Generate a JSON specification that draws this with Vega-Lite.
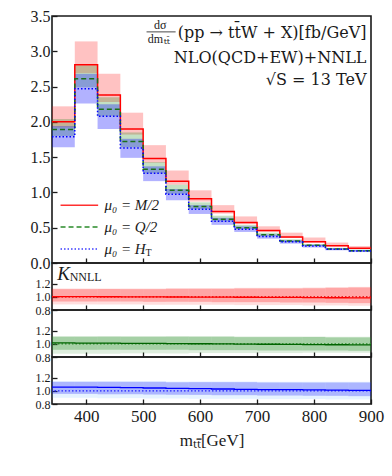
{
"$schema":"https://vega.github.io/schema/vega-lite/v6.json",
"padding":{"left":29,"top":7,"right":5,"bottom":5},
"background":"white",
"config":{
 "font":"Liberation Serif",
 "view":{"stroke":"#1a1a1a","strokeWidth":1.6},
 "axis":{"domain":false,"grid":false,"tickSize":-5,"tickWidth":1.3,"tickColor":"#1a1a1a","labelColor":"#1a1a1a","labelFont":"Liberation Serif","labelPadding":6,"labelFlush":false,"labelOverlap":false,"tickCount":30,"titleFont":"Liberation Serif","titleFontWeight":"normal","titleColor":"#1a1a1a"},
 "text":{"font":"Liberation Serif","color":"#1a1a1a"}
},
"datasets":{
"main":[
{"s":"M/2","a":340,"b":380,"c":2.00,"lo":1.92,"hi":2.22},
{"s":"M/2","a":380,"b":420,"c":2.81,"lo":2.69,"hi":3.14},
{"s":"M/2","a":420,"b":460,"c":2.38,"lo":2.28,"hi":2.68},
{"s":"M/2","a":460,"b":500,"c":1.90,"lo":1.82,"hi":2.13},
{"s":"M/2","a":500,"b":540,"c":1.48,"lo":1.42,"hi":1.67},
{"s":"M/2","a":540,"b":580,"c":1.16,"lo":1.11,"hi":1.31},
{"s":"M/2","a":580,"b":620,"c":0.91,"lo":0.87,"hi":1.03},
{"s":"M/2","a":620,"b":660,"c":0.73,"lo":0.70,"hi":0.82},
{"s":"M/2","a":660,"b":700,"c":0.575,"lo":0.55,"hi":0.66},
{"s":"M/2","a":700,"b":740,"c":0.46,"lo":0.44,"hi":0.52},
{"s":"M/2","a":740,"b":780,"c":0.37,"lo":0.355,"hi":0.43},
{"s":"M/2","a":780,"b":820,"c":0.30,"lo":0.29,"hi":0.36},
{"s":"M/2","a":820,"b":860,"c":0.245,"lo":0.235,"hi":0.29},
{"s":"M/2","a":860,"b":900,"c":0.21,"lo":0.20,"hi":0.24},
{"s":"Q/2","a":340,"b":380,"c":1.89,"lo":1.80,"hi":2.04},
{"s":"Q/2","a":380,"b":420,"c":2.61,"lo":2.49,"hi":2.80},
{"s":"Q/2","a":420,"b":460,"c":2.18,"lo":2.08,"hi":2.35},
{"s":"Q/2","a":460,"b":500,"c":1.72,"lo":1.64,"hi":1.85},
{"s":"Q/2","a":500,"b":540,"c":1.33,"lo":1.27,"hi":1.43},
{"s":"Q/2","a":540,"b":580,"c":1.03,"lo":0.98,"hi":1.11},
{"s":"Q/2","a":580,"b":620,"c":0.80,"lo":0.765,"hi":0.86},
{"s":"Q/2","a":620,"b":660,"c":0.62,"lo":0.59,"hi":0.67},
{"s":"Q/2","a":660,"b":700,"c":0.50,"lo":0.48,"hi":0.54},
{"s":"Q/2","a":700,"b":740,"c":0.40,"lo":0.38,"hi":0.43},
{"s":"Q/2","a":740,"b":780,"c":0.31,"lo":0.295,"hi":0.335},
{"s":"Q/2","a":780,"b":820,"c":0.25,"lo":0.24,"hi":0.27},
{"s":"Q/2","a":820,"b":860,"c":0.20,"lo":0.19,"hi":0.215},
{"s":"Q/2","a":860,"b":900,"c":0.175,"lo":0.167,"hi":0.19},
{"s":"HT","a":340,"b":380,"c":1.79,"lo":1.64,"hi":1.94},
{"s":"HT","a":380,"b":420,"c":2.47,"lo":2.26,"hi":2.68},
{"s":"HT","a":420,"b":460,"c":2.08,"lo":1.90,"hi":2.25},
{"s":"HT","a":460,"b":500,"c":1.63,"lo":1.49,"hi":1.76},
{"s":"HT","a":500,"b":540,"c":1.27,"lo":1.16,"hi":1.37},
{"s":"HT","a":540,"b":580,"c":0.975,"lo":0.89,"hi":1.05},
{"s":"HT","a":580,"b":620,"c":0.76,"lo":0.695,"hi":0.82},
{"s":"HT","a":620,"b":660,"c":0.59,"lo":0.54,"hi":0.64},
{"s":"HT","a":660,"b":700,"c":0.48,"lo":0.44,"hi":0.52},
{"s":"HT","a":700,"b":740,"c":0.375,"lo":0.345,"hi":0.405},
{"s":"HT","a":740,"b":780,"c":0.30,"lo":0.275,"hi":0.325},
{"s":"HT","a":780,"b":820,"c":0.24,"lo":0.22,"hi":0.26},
{"s":"HT","a":820,"b":860,"c":0.195,"lo":0.18,"hi":0.21},
{"s":"HT","a":860,"b":900,"c":0.17,"lo":0.155,"hi":0.185}
],
"ratio":[
{"s":"M/2","a":340,"b":380,"r":1.005,"ilo":0.93,"ihi":1.12,"olo":0.885,"ohi":1.13},
{"s":"M/2","a":380,"b":420,"r":1.004,"ilo":0.93,"ihi":1.12,"olo":0.885,"ohi":1.13},
{"s":"M/2","a":420,"b":460,"r":1.003,"ilo":0.93,"ihi":1.12,"olo":0.885,"ohi":1.13},
{"s":"M/2","a":460,"b":500,"r":1.002,"ilo":0.93,"ihi":1.12,"olo":0.885,"ohi":1.13},
{"s":"M/2","a":500,"b":540,"r":1.0,"ilo":0.925,"ihi":1.12,"olo":0.88,"ohi":1.13},
{"s":"M/2","a":540,"b":580,"r":0.999,"ilo":0.925,"ihi":1.125,"olo":0.88,"ohi":1.135},
{"s":"M/2","a":580,"b":620,"r":0.998,"ilo":0.925,"ihi":1.125,"olo":0.88,"ohi":1.135},
{"s":"M/2","a":620,"b":660,"r":0.996,"ilo":0.92,"ihi":1.125,"olo":0.88,"ohi":1.135},
{"s":"M/2","a":660,"b":700,"r":0.995,"ilo":0.92,"ihi":1.13,"olo":0.875,"ohi":1.14},
{"s":"M/2","a":700,"b":740,"r":0.993,"ilo":0.92,"ihi":1.13,"olo":0.875,"ohi":1.14},
{"s":"M/2","a":740,"b":780,"r":0.992,"ilo":0.915,"ihi":1.13,"olo":0.875,"ohi":1.14},
{"s":"M/2","a":780,"b":820,"r":0.99,"ilo":0.915,"ihi":1.135,"olo":0.87,"ohi":1.145},
{"s":"M/2","a":820,"b":860,"r":0.988,"ilo":0.91,"ihi":1.14,"olo":0.87,"ohi":1.15},
{"s":"M/2","a":860,"b":900,"r":0.986,"ilo":0.905,"ihi":1.145,"olo":0.865,"ohi":1.155},
{"s":"Q/2","a":340,"b":380,"r":1.015,"ilo":0.91,"ihi":1.11,"olo":0.85,"ohi":1.12},
{"s":"Q/2","a":380,"b":420,"r":1.014,"ilo":0.91,"ihi":1.11,"olo":0.85,"ohi":1.12},
{"s":"Q/2","a":420,"b":460,"r":1.012,"ilo":0.91,"ihi":1.11,"olo":0.85,"ohi":1.12},
{"s":"Q/2","a":460,"b":500,"r":1.01,"ilo":0.91,"ihi":1.11,"olo":0.855,"ohi":1.12},
{"s":"Q/2","a":500,"b":540,"r":1.008,"ilo":0.91,"ihi":1.11,"olo":0.855,"ohi":1.12},
{"s":"Q/2","a":540,"b":580,"r":1.005,"ilo":0.91,"ihi":1.11,"olo":0.855,"ohi":1.12},
{"s":"Q/2","a":580,"b":620,"r":1.003,"ilo":0.905,"ihi":1.11,"olo":0.86,"ohi":1.12},
{"s":"Q/2","a":620,"b":660,"r":1.0,"ilo":0.905,"ihi":1.11,"olo":0.86,"ohi":1.12},
{"s":"Q/2","a":660,"b":700,"r":0.998,"ilo":0.905,"ihi":1.105,"olo":0.86,"ohi":1.115},
{"s":"Q/2","a":700,"b":740,"r":0.995,"ilo":0.9,"ihi":1.105,"olo":0.86,"ohi":1.115},
{"s":"Q/2","a":740,"b":780,"r":0.993,"ilo":0.9,"ihi":1.105,"olo":0.86,"ohi":1.115},
{"s":"Q/2","a":780,"b":820,"r":0.99,"ilo":0.9,"ihi":1.105,"olo":0.865,"ohi":1.115},
{"s":"Q/2","a":820,"b":860,"r":0.988,"ilo":0.9,"ihi":1.1,"olo":0.865,"ohi":1.11},
{"s":"Q/2","a":860,"b":900,"r":0.985,"ilo":0.895,"ihi":1.1,"olo":0.865,"ohi":1.11},
{"s":"HT","a":340,"b":380,"r":1.06,"ilo":0.955,"ihi":1.14,"olo":0.895,"ohi":1.15},
{"s":"HT","a":380,"b":420,"r":1.058,"ilo":0.955,"ihi":1.14,"olo":0.895,"ohi":1.15},
{"s":"HT","a":420,"b":460,"r":1.055,"ilo":0.95,"ihi":1.14,"olo":0.89,"ohi":1.15},
{"s":"HT","a":460,"b":500,"r":1.05,"ilo":0.95,"ihi":1.14,"olo":0.89,"ohi":1.15},
{"s":"HT","a":500,"b":540,"r":1.045,"ilo":0.945,"ihi":1.14,"olo":0.885,"ohi":1.15},
{"s":"HT","a":540,"b":580,"r":1.04,"ilo":0.94,"ihi":1.135,"olo":0.885,"ohi":1.145},
{"s":"HT","a":580,"b":620,"r":1.035,"ilo":0.94,"ihi":1.135,"olo":0.88,"ohi":1.145},
{"s":"HT","a":620,"b":660,"r":1.03,"ilo":0.935,"ihi":1.135,"olo":0.88,"ohi":1.145},
{"s":"HT","a":660,"b":700,"r":1.025,"ilo":0.935,"ihi":1.135,"olo":0.88,"ohi":1.145},
{"s":"HT","a":700,"b":740,"r":1.02,"ilo":0.93,"ihi":1.13,"olo":0.875,"ohi":1.14},
{"s":"HT","a":740,"b":780,"r":1.02,"ilo":0.93,"ihi":1.13,"olo":0.875,"ohi":1.14},
{"s":"HT","a":780,"b":820,"r":1.015,"ilo":0.925,"ihi":1.13,"olo":0.875,"ohi":1.14},
{"s":"HT","a":820,"b":860,"r":1.012,"ilo":0.925,"ihi":1.13,"olo":0.87,"ohi":1.14},
{"s":"HT","a":860,"b":900,"r":1.01,"ilo":0.92,"ihi":1.13,"olo":0.87,"ohi":1.14}
]
},
"spacing":0,
"bounds":"flush",
"resolve":{"scale":{"x":"independent","y":"independent"}},
"vconcat":[
{"width":319,"height":247,
 "resolve":{"scale":{"color":"independent"}},
 "layer":[
  {"data":{"name":"main"},"mark":{"type":"rect"},
   "encoding":{
    "x":{"field":"a","type":"quantitative","scale":{"domain":[340,900],"nice":false,"zero":false},"axis":{"values":[400,500,600,700,800,900],"tickCount":30,"labels":false,"title":null}},
    "x2":{"field":"b"},
    "y":{"field":"lo","type":"quantitative","scale":{"domain":[0,3.5],"nice":false},"axis":{"values":[0,0.5,1,1.5,2,2.5,3,3.5],"tickCount":30,"format":".1f","title":null,"labelFontSize":16,"labelOverlap":false,"labelPadding":7}},
    "y2":{"field":"hi"},
    "color":{"field":"s","type":"nominal","scale":{"domain":["M/2","Q/2","HT"],"range":["#ff0000","#228b22","#0000ff"]},"legend":null},
    "opacity":{"field":"s","type":"nominal","scale":{"domain":["M/2","Q/2","HT"],"range":[0.24,0.3,0.22]},"legend":null}
   }},
  {"data":{"name":"main"},"transform":[{"fold":["a","b"],"as":["k","x"]}],
   "mark":{"type":"line","strokeWidth":1.5},
   "encoding":{
    "x":{"field":"x","type":"quantitative"},
    "y":{"field":"c","type":"quantitative"},
    "color":{"field":"s","type":"nominal","scale":{"domain":["M/2","Q/2","HT"],"range":["#ff0000","#1b6e1b","#0000ff"]},"legend":null},
    "strokeDash":{"field":"s","type":"nominal","scale":{"domain":["M/2","Q/2","HT"],"range":[[1,0],[5,3],[1.5,2]]},"legend":null},
    "order":{"value":null}
   }},
  {"data":{"values":[{}]},"mark":{"type":"rule","color":"#ff3030","strokeWidth":1.5},"encoding":{"x":{"datum":355,"type":"quantitative"},"x2":{"datum":421},"y":{"datum":0.82,"type":"quantitative"}}},
  {"data":{"values":[{}]},"mark":{"type":"rule","color":"#2a8a2a","strokeWidth":1.5,"strokeDash":[5,3]},"encoding":{"x":{"datum":355,"type":"quantitative"},"x2":{"datum":421},"y":{"datum":0.51,"type":"quantitative"}}},
  {"data":{"values":[{}]},"mark":{"type":"rule","color":"#3a3aff","strokeWidth":1.5,"strokeDash":[1.5,2]},"encoding":{"x":{"datum":355,"type":"quantitative"},"x2":{"datum":421},"y":{"datum":0.2,"type":"quantitative"}}},
  {"data":{"values":[{}]},"mark":{"type":"text","text":"μ₀ = M/2","align":"left","baseline":"middle","fontSize":15,"fontStyle":"italic"},"encoding":{"x":{"datum":432,"type":"quantitative"},"y":{"datum":0.82,"type":"quantitative"}}},
  {"data":{"values":[{}]},"mark":{"type":"text","text":"μ₀ = Q/2","align":"left","baseline":"middle","fontSize":15,"fontStyle":"italic"},"encoding":{"x":{"datum":432,"type":"quantitative"},"y":{"datum":0.51,"type":"quantitative"}}},
  {"data":{"values":[{}]},"mark":{"type":"text","text":"μ₀ = H","align":"left","baseline":"middle","fontSize":15,"fontStyle":"italic"},"encoding":{"x":{"datum":432,"type":"quantitative"},"y":{"datum":0.2,"type":"quantitative"}}},
  {"data":{"values":[{}]},"mark":{"type":"text","text":"T","align":"left","baseline":"middle","fontSize":10,"dx":41,"dy":4},"encoding":{"x":{"datum":432,"type":"quantitative"},"y":{"datum":0.2,"type":"quantitative"}}},
  {"data":{"values":[{}]},"mark":{"type":"text","text":"dσ","align":"center","baseline":"middle","fontSize":12},"encoding":{"x":{"datum":530,"type":"quantitative"},"y":{"datum":3.37,"type":"quantitative"}}},
  {"data":{"values":[{}]},"mark":{"type":"rule","color":"#1a1a1a","strokeWidth":0.8},"encoding":{"x":{"datum":506,"type":"quantitative"},"x2":{"datum":557},"y":{"datum":3.275,"type":"quantitative"}}},
  {"data":{"values":[{}]},"mark":{"type":"text","text":"dm","align":"right","baseline":"middle","fontSize":12},"encoding":{"x":{"datum":535,"type":"quantitative"},"y":{"datum":3.17,"type":"quantitative"}}},
  {"data":{"values":[{}]},"mark":{"type":"text","text":"tt̄","font":"DejaVu Serif","align":"left","baseline":"middle","fontSize":8},"encoding":{"x":{"datum":536,"type":"quantitative"},"y":{"datum":3.13,"type":"quantitative"}}},
  {"data":{"values":[{}]},"mark":{"type":"text","text":"(pp → tt̄W + X)[fb/GeV]","font":"DejaVu Serif","align":"right","baseline":"middle","fontSize":16},"encoding":{"x":{"datum":892,"type":"quantitative"},"y":{"datum":3.26,"type":"quantitative"}}},
  {"data":{"values":[{}]},"mark":{"type":"text","text":"NLO(QCD+EW)+NNLL","font":"DejaVu Serif","align":"right","baseline":"middle","fontSize":16},"encoding":{"x":{"datum":892,"type":"quantitative"},"y":{"datum":2.9,"type":"quantitative"}}},
  {"data":{"values":[{}]},"mark":{"type":"text","text":"√S = 13 TeV","font":"DejaVu Serif","align":"right","baseline":"middle","fontSize":16},"encoding":{"x":{"datum":892,"type":"quantitative"},"y":{"datum":2.59,"type":"quantitative"}}}
 ]},
{"width":319,"height":47,
 "layer":[
  {"data":{"name":"ratio"},"transform":[{"filter":"datum.s==='M/2'"}],"mark":{"type":"rect","color":"#ff0000","opacity":0.13},
   "encoding":{"x":{"field":"a","type":"quantitative","scale":{"domain":[340,900],"nice":false,"zero":false},"axis":{"values":[400,500,600,700,800,900],"tickCount":30,"labels":false,"title":null}},"x2":{"field":"b"},
    "y":{"field":"olo","type":"quantitative","scale":{"domain":[0.8,1.52],"nice":false,"zero":false},"axis":{"values":[0.8,1.0,1.2],"tickCount":30,"format":".1f","title":null,"labelFontSize":12,"labelOverlap":false,"labelPadding":7}},"y2":{"field":"ohi"}}},
  {"data":{"name":"ratio"},"transform":[{"filter":"datum.s==='M/2'"}],"mark":{"type":"rect","color":"#ff0000","opacity":0.25},
   "encoding":{"x":{"field":"a","type":"quantitative"},"x2":{"field":"b"},"y":{"field":"ilo","type":"quantitative"},"y2":{"field":"ihi"}}},
  {"data":{"values":[{}]},"mark":{"type":"rule","color":"#dd0000","strokeWidth":1.2,"strokeDash":[1.5,2]},"encoding":{"y":{"datum":1,"type":"quantitative"}}},
  {"data":{"name":"ratio"},"transform":[{"filter":"datum.s==='M/2'"},{"fold":["a","b"],"as":["k","x"]}],"mark":{"type":"line","color":"#ff0000","strokeWidth":1.3},
   "encoding":{"x":{"field":"x","type":"quantitative"},"y":{"field":"r","type":"quantitative"},"order":{"value":null}}},
  {"data":{"values":[{}]},"mark":{"type":"text","text":"K","align":"left","baseline":"middle","fontSize":19,"fontStyle":"italic"},"encoding":{"x":{"datum":349,"type":"quantitative"},"y":{"datum":1.35,"type":"quantitative"}}},
  {"data":{"values":[{}]},"mark":{"type":"text","text":"NNLL","align":"left","baseline":"middle","fontSize":12},"encoding":{"x":{"datum":371,"type":"quantitative"},"y":{"datum":1.3,"type":"quantitative"}}}
 ]},
{"width":319,"height":47,
 "layer":[
  {"data":{"name":"ratio"},"transform":[{"filter":"datum.s==='Q/2'"}],"mark":{"type":"rect","color":"#228b22","opacity":0.15},
   "encoding":{"x":{"field":"a","type":"quantitative","scale":{"domain":[340,900],"nice":false,"zero":false},"axis":{"values":[400,500,600,700,800,900],"tickCount":30,"labels":false,"title":null}},"x2":{"field":"b"},
    "y":{"field":"olo","type":"quantitative","scale":{"domain":[0.8,1.52],"nice":false,"zero":false},"axis":{"values":[0.8,1.0,1.2],"tickCount":30,"format":".1f","title":null,"labelFontSize":12,"labelOverlap":false,"labelPadding":7}},"y2":{"field":"ohi"}}},
  {"data":{"name":"ratio"},"transform":[{"filter":"datum.s==='Q/2'"}],"mark":{"type":"rect","color":"#228b22","opacity":0.3},
   "encoding":{"x":{"field":"a","type":"quantitative"},"x2":{"field":"b"},"y":{"field":"ilo","type":"quantitative"},"y2":{"field":"ihi"}}},
  {"data":{"values":[{}]},"mark":{"type":"rule","color":"#2a8a2a","strokeWidth":1.2,"strokeDash":[1.5,2]},"encoding":{"y":{"datum":1,"type":"quantitative"}}},
  {"data":{"name":"ratio"},"transform":[{"filter":"datum.s==='Q/2'"},{"fold":["a","b"],"as":["k","x"]}],"mark":{"type":"line","color":"#006400","strokeWidth":1.3},
   "encoding":{"x":{"field":"x","type":"quantitative"},"y":{"field":"r","type":"quantitative"},"order":{"value":null}}}
 ]},
{"width":319,"height":47,
 "layer":[
  {"data":{"name":"ratio"},"transform":[{"filter":"datum.s==='HT'"}],"mark":{"type":"rect","color":"#3399ff","opacity":0.12},
   "encoding":{"x":{"field":"a","type":"quantitative","scale":{"domain":[340,900],"nice":false,"zero":false},"axis":{"values":[400,500,600,700,800,900],"tickCount":30,"title":"mₜₜ̄[GeV]","labelFontSize":17,"titleFontSize":17,"labelPadding":9,"titlePadding":8,"labelOverlap":false}},"x2":{"field":"b"},
    "y":{"field":"olo","type":"quantitative","scale":{"domain":[0.8,1.52],"nice":false,"zero":false},"axis":{"values":[0.8,1.0,1.2],"tickCount":30,"format":".1f","title":null,"labelFontSize":12,"labelOverlap":false,"labelPadding":7}},"y2":{"field":"ohi"}}},
  {"data":{"name":"ratio"},"transform":[{"filter":"datum.s==='HT'"}],"mark":{"type":"rect","color":"#0000ff","opacity":0.25},
   "encoding":{"x":{"field":"a","type":"quantitative"},"x2":{"field":"b"},"y":{"field":"ilo","type":"quantitative"},"y2":{"field":"ihi"}}},
  {"data":{"values":[{}]},"mark":{"type":"rule","color":"#2020ff","strokeWidth":1.2,"strokeDash":[1.5,2]},"encoding":{"y":{"datum":1,"type":"quantitative"}}},
  {"data":{"name":"ratio"},"transform":[{"filter":"datum.s==='HT'"},{"fold":["a","b"],"as":["k","x"]}],"mark":{"type":"line","color":"#0000ff","strokeWidth":1.3},
   "encoding":{"x":{"field":"x","type":"quantitative"},"y":{"field":"r","type":"quantitative"},"order":{"value":null}}}
 ]}
]
}
